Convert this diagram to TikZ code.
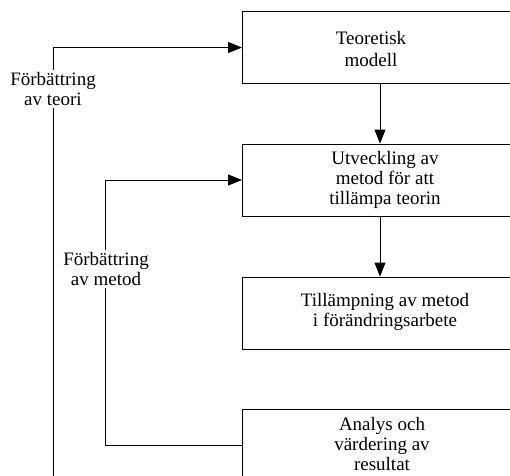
\documentclass[tikz,border=0pt]{standalone}
\usepackage{fontspec}
\setmainfont{Liberation Serif}
\usetikzlibrary{arrows.meta}
\begin{document}
\begin{tikzpicture}[x=1pt,y=-1pt,
  every node/.style={font=\fontsize{19}{20}\selectfont},
  stepbox/.style={draw=black,line width=0.9pt,minimum width=284pt,minimum height=72pt,inner sep=0pt,anchor=west},
  boxtext/.style={align=center,inner sep=0pt},
  loop label/.style={align=center,fill=white,inner xsep=1pt,inner ysep=2pt},
  link/.style={draw=black,line width=0.9pt},
  flow/.style={link,-{Triangle[length=14pt,width=11pt]}}]
  % canvas
  \clip (0,0) rectangle (510,475);
  \fill[white] (0,0) rectangle (510,475);

  % process boxes (they run off past the right edge)
  \node[stepbox] (modell)  at (242,47.5) {};
  \node[stepbox] (metod)   at (242,180) {};
  \node[stepbox] (tillamp) at (242,313) {};
  \node[stepbox] (analys)  at (242,445) {};

  \node[boxtext] (modellT)  at (371,49)  {Teoretisk\\[2pt]modell};
  \node[boxtext] (metodT)   at (385,180) {Utveckling av\\metod för att\\tillämpa teorin};
  \node[boxtext] (tillampT) at (385,312) {Tillämpning av metod\\i förändringsarbete};
  \node[boxtext] (analysT)  at (382,444) {Analys och\\värdering av\\resultat};

  % downward flow
  \draw[flow] (modell.south -| 380,0) -- (metod.north -| 380,0);
  \draw[flow] (metod.south -| 380,0) -- (tillamp.north -| 380,0);

  % feedback loops
  \coordinate (teoriFoot) at (53,480);
  \coordinate (teoriTop)  at (53,47.5);
  \draw[flow] (teoriFoot) -- (teoriTop) -- (modell.west);

  \coordinate (metodFoot) at (105,445);
  \coordinate (metodTop)  at (105,180);
  \draw[flow] (analys.west) -- (metodFoot) -- (metodTop) -- (metod.west);

  \node[loop label] (teoriLbl) at (53,89)  {Förbättring\\av teori};
  \node[loop label] (metodLbl) at (106,269) {Förbättring\\av metod};
\end{tikzpicture}
\end{document}
